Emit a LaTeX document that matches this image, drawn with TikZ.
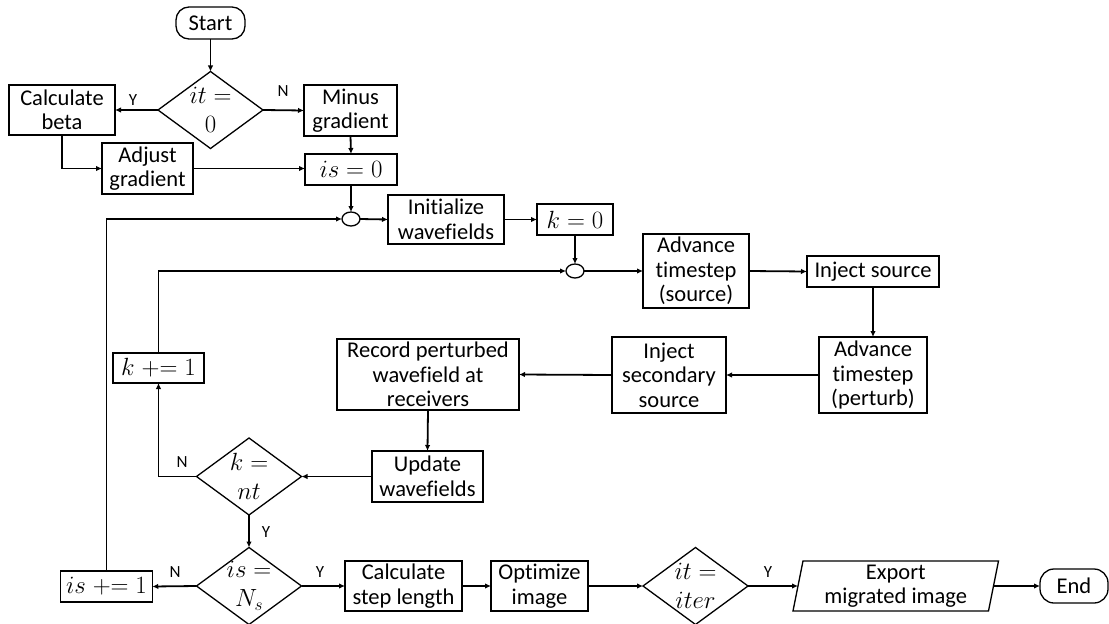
\documentclass[tikz,border=0pt]{standalone}
\usepackage{fontspec}
\setmainfont{Carlito}[Ligatures=NoCommon]
\usetikzlibrary{arrows.meta,shapes.geometric,calc}
\begin{document}
\begin{tikzpicture}[x=1pt,y=-1pt,
  every node/.style={inner sep=0pt, outer sep=0pt},
  txt/.style={font=\fontsize{22.5}{24.5}\selectfont, align=center},
  mtxt/.style={font=\fontsize{25}{29}\selectfont, align=center},
  box/.style={txt, draw, line width=1.3pt, rectangle},
  mbox/.style={box, font=\fontsize{25}{29}\selectfont},
  term/.style={box, rounded corners=13pt},
  dia/.style={draw, line width=1.3pt, diamond, minimum width=105pt, minimum height=77pt},
  junc/.style={draw, line width=1.3pt, ellipse, minimum width=18pt, minimum height=14pt},
  yn/.style={font=\fontsize{17}{20}\selectfont},
  arr/.style={line width=1.8pt, -{Latex[length=6pt,width=5.5pt]}}
]
\useasboundingbox (0,0) rectangle (1109,624);

% --- outer iteration: start and gradient handling
\node[term, minimum width=69pt, minimum height=32pt] (start) at (210.5,23) {Start};
\node[dia] (d1) at (210.5,110) {};
\node[mtxt] (d1t) at (d1) {$it=$\\$0$};
\node[box, minimum width=106pt, minimum height=50pt] (beta) at (62,110) {Calculate\\beta};
\node[box, minimum width=93pt, minimum height=51pt] (minus) at (350.5,110.5) {Minus\\gradient};
\node[box, minimum width=91pt, minimum height=51pt] (adjust) at (147.5,168.5) {Adjust\\gradient};
\node[mbox, minimum width=92pt, minimum height=31pt] (is0) at (351,169.5) {$is=0$};

% --- shot loop
\node[junc] (c1) at (351,219) {};
\node[box, minimum width=116pt, minimum height=49pt] (init) at (446,219.5) {Initialize\\wavefields};
\node[mbox, minimum width=76pt, minimum height=31pt] (k0) at (575,219.5) {$k=0$};

% --- time loop
\node[junc] (c2) at (575,271) {};
\node[box, minimum width=106pt, minimum height=74pt] (advs) at (696,271) {Advance\\timestep\\(source)};
\node[box, minimum width=132pt, minimum height=31pt] (inj) at (873,271.5) {Inject source};
\node[box, minimum width=108pt, minimum height=76pt] (advp) at (873,375) {Advance\\timestep\\(perturb)};
\node[box, minimum width=114pt, minimum height=76pt] (sec) at (669,375) {Inject\\secondary\\source};
\node[box, minimum width=182pt, minimum height=71pt] (rec) at (428,374.5) {Record perturbed\\wavefield at\\receivers};
\node[box, minimum width=111pt, minimum height=51pt] (upd) at (427.5,476.5) {Update\\wavefields};
\node[dia] (d2) at (249,476.5) {};
\node[mtxt] (d2t) at (d2) {$k=$\\$nt$};
\node[mbox, minimum width=91pt, minimum height=30pt] (kp) at (158.5,368) {$k\mathrel{+}=1$};

% --- end of shots and finishing steps
\node[dia] (d3) at (249,586) {};
\node[mtxt] (d3t) at (d3) {$is=$\\$N_s$};
\node[mbox, minimum width=91.5pt, minimum height=31pt] (isp) at (106.5,586.5) {$is\mathrel{+}=1$};
\node[box, minimum width=117pt, minimum height=50pt] (step) at (403.5,586) {Calculate\\step length};
\node[box, minimum width=97pt, minimum height=50pt] (opt) at (539.5,586) {Optimize\\image};
\node[dia] (d4) at (695.5,586) {};
\node[mtxt] (d4t) at (d4) {$it=$\\$iter$};
\node[txt, minimum width=195.5pt, minimum height=50pt] (exp) at (895.75,586) {Export\\migrated image};
\draw[line width=1.3pt] ([xshift=5pt]exp.north west) -- ([xshift=5pt]exp.north east)
  -- ([xshift=-5pt]exp.south east) -- ([xshift=-5pt]exp.south west) -- cycle;
\node[term, minimum width=68pt, minimum height=34pt, rounded corners=14pt] (end) at (1074,586) {End};

% --- branch labels
\node[yn] (y1) at (133,100) {Y};
\node[yn] (n1) at (283,91) {N};
\node[yn] (n2) at (182,462) {N};
\node[yn] (y2) at (266,532) {Y};
\node[yn] (n3) at (175,572) {N};
\node[yn] (y3) at (320,572) {Y};
\node[yn] (y4) at (768,572) {Y};

% --- connectors
\draw[arr] (start) -- (d1);
\draw[arr] (d1.west) -- (beta.east);
\draw[arr] (d1.east) -- (minus.west);
\draw[arr] (minus.south) -- (is0.north);
\draw[arr] (beta.south) |- (adjust.west);
\draw[arr] (adjust.east) -- (adjust.east -| is0.west);
\draw[arr] (is0.south) -- (c1.north);
\draw[arr] (c1.east) -- (init.west);
\draw[arr] (init.east) -- (k0.west);
\draw[arr] (k0.south) -- (c2.north);
\draw[arr] (c2.east) -- (advs.west);
\draw[arr] (advs.east) -- (inj.west);
\draw[arr] (inj.south) -- (advp.north);
\draw[arr] (advp.west) -- (sec.east);
\draw[arr] (sec.west) -- (rec.east);
\draw[arr] (rec.south) -- (upd.north);
\draw[arr] (upd.west) -- (d2.east);
\draw[arr] (d2.west) -| (kp.south);
\draw[arr] (kp.north) |- (c2.west);
\draw[arr] (d2.south) -- (d3.north);
\draw[arr] (d3.west) -- (isp.east);
\draw[arr] (isp.north) |- (c1.west);
\draw[arr] (d3.east) -- (step.west);
\draw[arr] (step.east) -- (opt.west);
\draw[arr] (opt.east) -- (d4.west);
\draw[arr] (d4.east) -- (exp.west);
\draw[arr] (exp.east) -- (end.west);
\end{tikzpicture}
\end{document}
